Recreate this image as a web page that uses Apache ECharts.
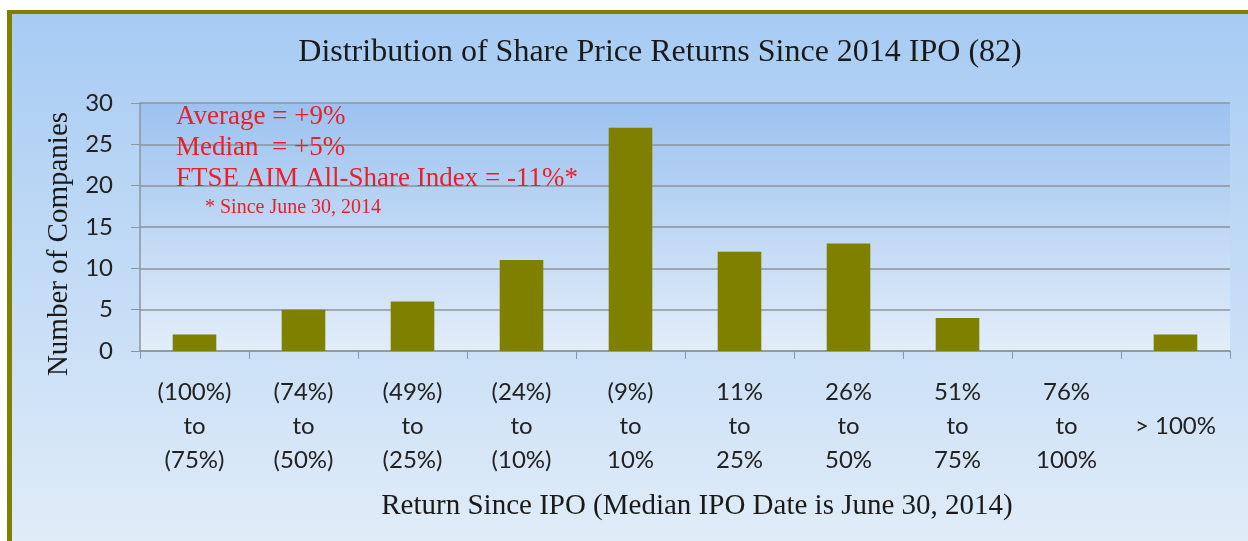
<!DOCTYPE html>
<html>
<head>
<meta charset="utf-8">
<script src="https://cdn.jsdelivr.net/npm/echarts@6/dist/echarts.min.js"></script>
<style>
  html, body { margin: 0; padding: 0; background: #fff; }
  #chart { width: 1248px; height: 541px; }
</style>
</head>
<body>
<div id="chart"></div>
<script>
// return buckets (x axis)
const categories = [
  "(100%)\nto\n(75%)", "(74%)\nto\n(50%)", "(49%)\nto\n(25%)", "(24%)\nto\n(10%)",
  "(9%)\nto\n10%", "11%\nto\n25%", "26%\nto\n50%", "51%\nto\n75%",
  "76%\nto\n100%", " \n> 100%\n "
];
// number of companies per bucket (82 total)
const companies = [2, 5, 6, 11, 27, 12, 13, 4, 0, 2];
const notes = ["Average = +9%", "Median  = +5%", "FTSE AIM All-Share Index = -11%*"];
const footnote = "* Since June 30, 2014";

const chart = echarts.init(document.getElementById("chart"));
const serif = "'Liberation Serif', 'Times New Roman', serif";
const sans = "Lato, 'Open Sans', sans-serif";
const olive = "#808000";

chart.setOption({
  animation: false,
  backgroundColor: "#fff",
  graphic: [
    // panel background + olive frame on top/left
    { type: "rect", shape: { x: 7, y: 10, width: 1241, height: 531 }, z: -10,
      style: { fill: new echarts.graphic.LinearGradient(0, 0, 0, 1, [
        { offset: 0, color: "#a6cbf3" }, { offset: 1, color: "#e0ecf8" }]) } },
    { type: "rect", shape: { x: 7, y: 10, width: 1241, height: 4 }, style: { fill: olive } },
    { type: "rect", shape: { x: 7, y: 10, width: 5, height: 531 }, style: { fill: olive } },
    ...notes.map((t, i) => ({
      type: "text", left: 176, top: 103 + i * 31, z: 10,
      style: { text: t, fill: "#e8202a", font: "27px " + serif }
    })),
    { type: "text", left: 205, top: 198, z: 10,
      style: { text: footnote, fill: "#e8202a", font: "20px " + serif } }
  ],
  title: {
    text: "Distribution of Share Price Returns Since 2014 IPO (82)",
    left: 655, textAlign: "center", top: 32,
    textStyle: { fontFamily: serif, fontSize: 32, fontWeight: "normal", color: "#1a1a1a" }
  },
  grid: {
    left: 140, right: 18, top: 103, bottom: 190, show: true, borderWidth: 0,
    backgroundColor: new echarts.graphic.LinearGradient(0, 0, 0, 1, [
      { offset: 0, color: "#9cc2f0" }, { offset: 1, color: "#e2edf9" }])
  },
  xAxis: {
    type: "category",
    data: categories,
    name: "Return Since IPO (Median IPO Date is June 30, 2014)",
    nameLocation: "middle", nameGap: 141,
    nameTextStyle: { fontFamily: serif, fontSize: 29, color: "#1a1a1a", padding: [0, 0, 0, 24] },
    axisLine: { lineStyle: { color: "#8c969e", width: 1.5 } },
    axisTick: { show: true, length: 8, lineStyle: { color: "#8c969e" } },
    axisLabel: { margin: 24, fontFamily: sans, fontSize: 24, lineHeight: 34, color: "#222", interval: 0 }
  },
  yAxis: {
    type: "value", min: 0, max: 30, interval: 5,
    name: "Number of Companies",
    nameLocation: "middle", nameGap: 57, nameRotate: 90,
    nameTextStyle: { fontFamily: serif, fontSize: 29, color: "#1a1a1a", padding: [0, 34, 0, 0] },
    axisLine: { show: true, lineStyle: { color: "#8c969e", width: 1.5 } },
    axisTick: { show: true, length: 9, lineStyle: { color: "#8c969e" } },
    axisLabel: { margin: 27, fontFamily: sans, fontSize: 24, color: "#222" },
    splitLine: { lineStyle: { color: "#8a949c", width: 1.5 } }
  },
  series: [{
    type: "bar",
    data: companies,
    barWidth: "40%",
    itemStyle: { color: "#7f7f00" }
  }]
});
</script>
</body>
</html>
